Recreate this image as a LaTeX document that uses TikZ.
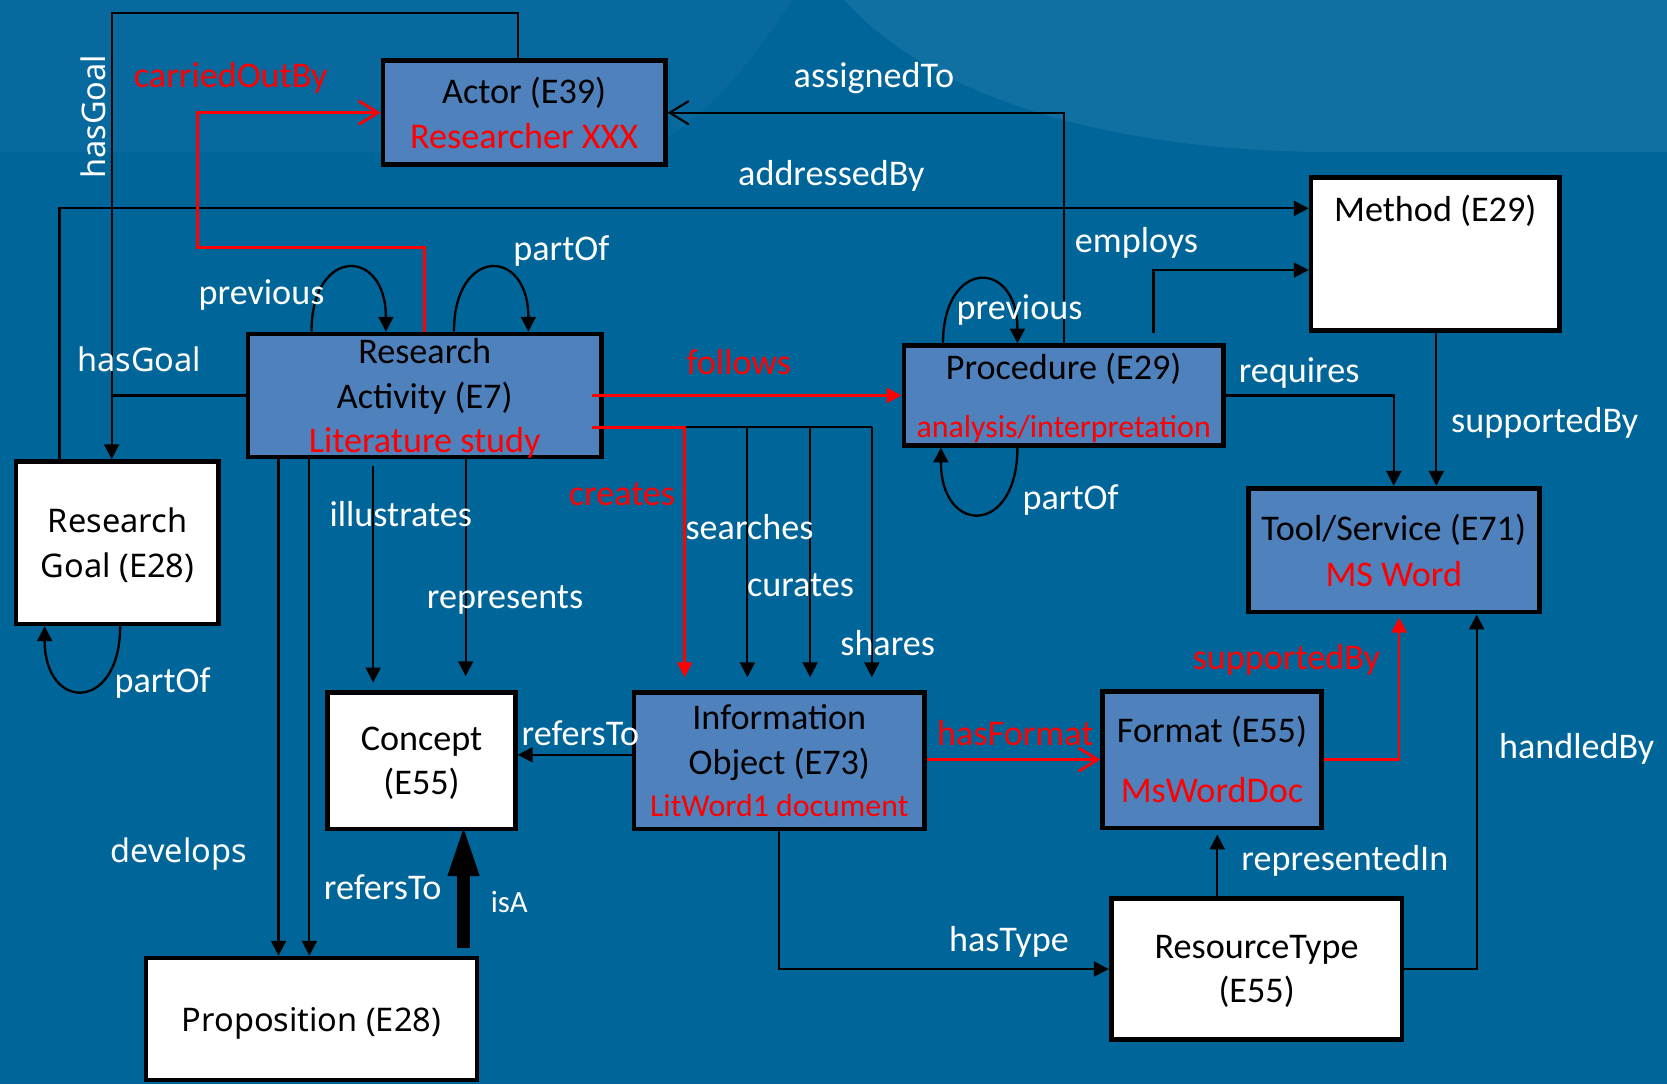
\documentclass[tikz,border=0pt]{standalone}
\usepackage{fontspec}
\setmainfont{Carlito}
\newfontfamily\segoe{Noto Sans}
\usetikzlibrary{arrows.meta}
\definecolor{bgblue}{RGB}{0,101,153}
\definecolor{bandblue}{RGB}{7,105,157}
\definecolor{lightblue}{RGB}{17,112,162}
\definecolor{boxblue}{RGB}{79,129,189}
\definecolor{myred}{RGB}{255,0,0}
\begin{document}
\begin{tikzpicture}[x=0.5pt, y=-0.5pt,
  box/.style={draw=black, line width=2.2pt, inner sep=0pt, align=center,
    font=\fontsize{17}{21}\selectfont, text=black},
  bluebox/.style={box, fill=boxblue},
  whitebox/.style={box, fill=white},
  conn/.style={draw=black, line width=1pt},
  arr/.style={conn, -{Triangle[length=7pt,width=7pt]}},
  barb/.style={conn, -{Straight Barb[length=9pt,width=11pt]}},
  redarr/.style={draw=myred, line width=1.3pt, -{Triangle[length=7pt,width=7pt]}},
  redbarb/.style={draw=myred, line width=1.3pt, -{Straight Barb[length=9pt,width=11pt]}},
  selfloop/.style={conn, line width=1.1pt, -{Triangle[length=7pt,width=7pt]}},
  lbl/.style={text=white, font=\fontsize{17}{21}\selectfont, inner sep=0pt},
  redlbl/.style={lbl, text=myred},
  seglbl/.style={text=white, font=\segoe\fontsize{15.3}{18}\selectfont, inner sep=0pt}]

% background
\useasboundingbox (0,0) rectangle (1568,1020);
\fill[bgblue] (0,0) rectangle (1568,1020);
\fill[bandblue] (0,0) -- (745,0) .. controls (700,70) and (650,125) .. (600,143) -- (0,143) -- cycle;
\fill[lightblue] (794,0) .. controls (880,95) and (1050,143) .. (1257,143) -- (1568,143) -- (1568,0) -- cycle;

% boxes
\node[bluebox, minimum width=132.8pt, minimum height=48.8pt] (actor) at (493,106)
  {Actor (E39)\\\textcolor{myred}{Researcher XXX}};
\node[whitebox, align=left, minimum width=116.8pt, minimum height=71.8pt,
  text height=20.4pt, text depth=51.4pt] (method) at (1350,239) {Method (E29)};
\node[bluebox, text depth=0pt, minimum width=166.3pt, minimum height=57.8pt] (ra) at (399.5,372)
  {Research\\Activity (E7)\\\textcolor{myred}{Literature study}};
\node[bluebox, text depth=0pt, minimum width=150.3pt, minimum height=46.8pt] (proc) at (1000.5,372)
  {Procedure (E29)\\[6pt]{\fontsize{15}{18}\selectfont\textcolor{myred}{analysis/interpretation}}};
\node[whitebox, text depth=0pt, font=\segoe\fontsize{15.3}{21}\selectfont, minimum width=95.3pt, minimum height=76.3pt] (rg) at (110.5,510.5)
  {Research\\Goal (E28)};
\node[bluebox, minimum width=136.8pt, minimum height=58.3pt] (tool) at (1311,517.5)
  {Tool/Service (E71)\\[0.5pt]\textcolor{myred}{MS Word}};
\node[whitebox, text depth=0pt, minimum width=88.3pt, minimum height=64.3pt] (concept) at (396.5,715.5)
  {Concept\\(E55)};
\node[bluebox, text depth=0pt, minimum width=136.8pt, minimum height=64.3pt] (info) at (733,715.5)
  {Information\\Object (E73)\\[-1pt]{\fontsize{15}{18}\selectfont\textcolor{myred}{LitWord1 document}}};
\node[bluebox, minimum width=102.8pt, minimum height=64.3pt] (format) at (1140,714.5)
  {Format (E55)\\[7.5pt]\textcolor{myred}{MsWordDoc}};
\node[whitebox, text depth=0pt, minimum width=136.8pt, minimum height=66.3pt] (rt) at (1182,911.5)
  {ResourceType\\(E55)};
\node[whitebox, text depth=-1.5pt, font=\segoe\fontsize{15.3}{21}\selectfont, minimum width=155.8pt, minimum height=57.3pt] (prop) at (293,958.5)
  {Proposition (E28)};

% helper coordinates
\coordinate (hg) at (105,12);
\coordinate (cob) at (186,233);
\coordinate (cr) at (644,402);
\coordinate (s1) at (703,402);
\coordinate (s2) at (762,402);
\coordinate (s3) at (820,402);
\coordinate (d1) at (262,0);
\coordinate (d2) at (291,0);
\coordinate (d3) at (351,438);
\coordinate (d4) at (438,0);

% connectors
\draw[arr] ([xshift=-3pt]actor.north) |- (hg) -- (hg |- rg.north);
\draw[conn] (ra.west) -- (ra.west -| hg);
\draw[arr] ([xshift=-27.25pt]rg.north) |- ([yshift=21.5pt]method.west);
\draw[redbarb] (ra.north) |- (cob) |- (actor.west);
\draw[barb] (proc.north) |- (actor.east);
\draw[arr] ([xshift=42.25pt,yshift=5pt]proc.north) |- ([yshift=-7.5pt]method.west);

\draw[selfloop] ([xshift=-53.25pt]ra.north) .. controls +(0,-80) and +(0,-80) .. ([xshift=-18.25pt]ra.north);
\draw[selfloop] ([xshift=13.75pt]ra.north) .. controls +(0,-80) and +(0,-80) .. ([xshift=48.75pt]ra.north);
\draw[selfloop] ([xshift=-56.75pt]proc.north) .. controls +(0,-80) and +(0,-80) .. ([xshift=-21.75pt]proc.north);
\draw[selfloop] ([xshift=-21.75pt]proc.south) .. controls +(0,83) and +(0,83) .. ([xshift=-57.75pt]proc.south);
\draw[selfloop] ([xshift=1.25pt]rg.south) .. controls +(0,81) and +(0,81) .. ([xshift=-34.25pt]rg.south);

\draw[redarr] ([xshift=-5.5pt]ra.east) -- (proc.west);
\draw[conn] (cr) -- (s3);
\draw[arr, shorten >=6pt] (s1) -- (s1 |- info.north);
\draw[arr, shorten >=6pt] (s2) -- (s2 |- info.north);
\draw[arr, shorten >=6pt] (s3) -- (s3 |- info.north);
\draw[redarr, shorten >=6pt] ([xshift=-5.5pt,yshift=-15pt]ra.east) -- (cr) -- (cr |- info.north);

\draw[arr] (ra.south -| d1) -- (d1 |- prop.north);
\draw[arr] (ra.south -| d2) -- (d2 |- prop.north);
\draw[arr, shorten >=3.5pt] (d3) -- (d3 |- concept.north);
\draw[arr, shorten >=6.5pt] (ra.south -| d4) -- (d4 |- concept.north);

\draw[arr] ([yshift=2.75pt]info.west) -- ([yshift=2.75pt]concept.east);
\draw[line width=6pt, -{Triangle[length=25pt,width=13pt]}] ([xshift=71.5pt,yshift=3.5pt]prop.north) -- ([xshift=19.75pt,yshift=4pt]concept.south);

\draw[redbarb] ([yshift=0.5pt]info.east) -- (format.west);
\draw[redarr, shorten >=1.5pt] (format.east) -| ([xshift=2.5pt]tool.south);
\draw[arr, shorten >=2pt] ([xshift=-18.5pt]rt.north) -- ([xshift=2.5pt]format.south);
\draw[arr] (info.south) |- (rt.west);
\draw[arr] (rt.east) -| ([xshift=39pt]tool.south);
\draw[arr] (proc.east) -| (tool.north);
\draw[arr] ([xshift=0.5pt]method.south) -- ([xshift=20pt]tool.north);

% labels
\node[seglbl, rotate=90] (lHasGoalA) at (88,110) {hasGoal};
\node[seglbl] (lHasGoalB) at (131,338) {hasGoal};
\node[seglbl] (lDevelops) at (168,803) {develops};
\node[redlbl] (lCarried) at (217,73) {carriedOutBy};
\node[lbl] (lAssigned) at (822,73) {assignedTo};
\node[lbl] (lAddressed) at (782,165) {addressedBy};
\node[lbl] (lEmploys) at (1069,228) {employs};
\node[lbl] (lPartOfRA) at (528,236) {partOf};
\node[lbl] (lPrevRA) at (246,277) {previous};
\node[lbl] (lPrevProc) at (959,292) {previous};
\node[redlbl] (lFollows) at (695,341) {follows};
\node[lbl] (lRequires) at (1222,351) {requires};
\node[lbl] (lSupp) at (1453,398) {supportedBy};
\node[lbl] (lPartOfProc) at (1007,470) {partOf};
\node[redlbl] (lCreates) at (585,465) {creates};
\node[lbl] (lIllustrates) at (377,484) {illustrates};
\node[lbl] (lSearches) at (705,496) {searches};
\node[lbl] (lCurates) at (753,550) {curates};
\node[lbl] (lRepresents) at (475,564) {represents};
\node[lbl] (lShares) at (835,605) {shares};
\node[redlbl] (lSuppRed) at (1210,621) {supportedBy};
\node[lbl] (lPartOfRG) at (153,642) {partOf};
\node[lbl] (lRefersA) at (546,690) {refersTo};
\node[redlbl] (lHasFormat) at (955,690) {hasFormat};
\node[lbl] (lHandled) at (1483,704) {handledBy};
\node[lbl] (lRepIn) at (1265,810) {representedIn};
\node[lbl] (lRefersB) at (360,835) {refersTo};
\node[lbl, font=\fontsize{14.5}{18}\selectfont] (lIsA) at (479,848) {isA};
\node[lbl] (lHasType) at (949,886) {hasType};
\end{tikzpicture}
\end{document}
